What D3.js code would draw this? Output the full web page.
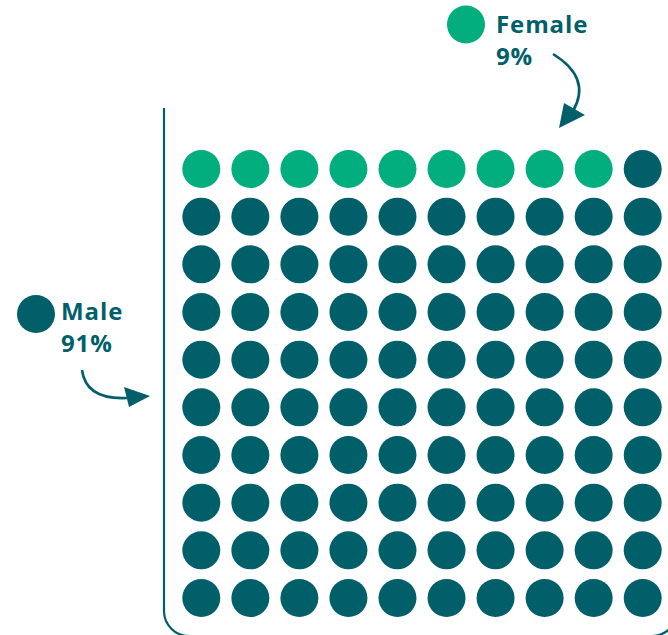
<!DOCTYPE html>
<html>
<head>
<meta charset="utf-8">
<script src="https://cdn.jsdelivr.net/npm/d3@7"></script>
<style>
  html, body { margin: 0; padding: 0; background: #ffffff; }
  svg { display: block; }
  text { font-family: "Open Sans", Lato, sans-serif; font-weight: 700; letter-spacing: 0.9px; }
</style>
</head>
<body>
<svg id="chart" width="668" height="635"></svg>
<script>
// Share of each group, in whole cells of a 10 x 10 grid
const categories = ["Female", "Male"];
const values = [9, 91];
const colors = ["#02ad7e", "#005f69"];
const gridCols = d3.range(10);
const gridRows = d3.range(10);

const svg = d3.select("#chart");
const ink = "#005f69";

// One cell per percentage point, filled row by row starting top-left
const cells = [];
categories.forEach((c, k) => {
  for (let i = 0; i < values[k]; i++) cells.push({ category: c, color: colors[k] });
});
cells.forEach((d, i) => { d.row = Math.floor(i / 10); d.col = i % 10; });

const x = d3.scalePoint().domain(gridCols).range([201.3, 642.7]);
const y = d3.scalePoint().domain(gridRows).range([169, 598]);
const r = 19;

// Frame around the grid: left side and bottom with rounded corners
svg.append("path")
  .attr("d", "M164,108 V611 A25,25 0 0 0 189,636 H652 A25,25 0 0 0 677,611 V108")
  .attr("fill", "none")
  .attr("stroke", ink)
  .attr("stroke-width", 2.2);

svg.append("g").selectAll("circle")
  .data(cells)
  .join("circle")
  .attr("cx", d => x(d.col))
  .attr("cy", d => y(d.row))
  .attr("r", r)
  .attr("fill", d => d.color);

// Legend labels with markers and arrows pointing at the grid
const legend = [
  { i: 0, cx: 466, cy: 24.5, tx: 496, ty: 33 },
  { i: 1, cx: 36, cy: 314, tx: 61, ty: 320 }
];
legend.forEach(l => {
  const g = svg.append("g");
  g.append("circle").attr("cx", l.cx).attr("cy", l.cy).attr("r", r).attr("fill", colors[l.i]);
  g.append("text").attr("x", l.tx).attr("y", l.ty)
    .attr("fill", ink).attr("font-size", 24).text(categories[l.i]);
  g.append("text").attr("x", l.tx).attr("y", l.ty + 32)
    .attr("fill", ink).attr("font-size", 24).text(values[l.i] + "%");
});

// Arrow from the Female label down into the top row
svg.append("path")
  .attr("d", "M553,54 Q592,78 573,111")
  .attr("fill", "none").attr("stroke", ink).attr("stroke-width", 2.6);
svg.append("path")
  .attr("d", "M559,128 L564,103 L585,115 Z")
  .attr("fill", ink);

// Arrow from the Male label across to the frame
svg.append("path")
  .attr("d", "M82,370 Q86,400 127,398")
  .attr("fill", "none").attr("stroke", ink).attr("stroke-width", 2.6);
svg.append("path")
  .attr("d", "M150,396 L124,387 L129,407 Z")
  .attr("fill", ink);
</script>
</body>
</html>
